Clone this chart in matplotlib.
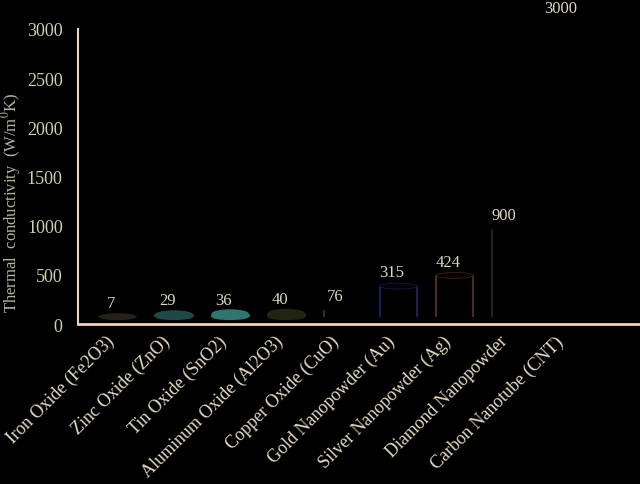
import matplotlib
matplotlib.use("Agg")
import matplotlib.pyplot as plt
from matplotlib.patches import Ellipse

categories = ["Iron Oxide (Fe2O3)", "Zinc Oxide (ZnO)", "Tin Oxide (SnO2)",
              "Aluminum Oxide (Al2O3)", "Copper Oxide (CuO)", "Gold Nanopowder (Au)",
              "Silver Nanopowder (Ag)", "Diamond Nanopowder", "Carbon Nanotube (CNT)"]
values = [7, 29, 36, 40, 76, 315, 424, 900, 3000]
yticks = [0, 500, 1000, 1500, 2000, 2500, 3000]

# styling
fill_colors = ['#262116', '#1e4946', '#2f766e', '#23230f', '#000000',
               '#030208', '#060302', '#000000', '#000000']
left_colors = ['#262116', '#1e4946', '#2f766e', '#2c2c12', '#3a3a16',
               '#2a1f70', '#5e3422', '#2e2a1c', '#000000']
right_colors = ['#262116', '#1e4946', '#2f766e', '#2c2c12', '#000000',
                '#2e2470', '#5a3422', '#000000', '#000000']
top_edge = ['none', 'none', 'none', 'none', 'none', '#1c1648', '#3a2216', 'none', 'none']
txt = '#ded6c0'
plt.rcParams['font.family'] = ['Liberation Serif', 'DejaVu Serif']
plt.rcParams['mathtext.fontset'] = 'stix'

fig = plt.figure(figsize=(6.4, 4.85), dpi=100, facecolor='black')
ax = fig.add_axes([78/640, 160/485, 1 - 78/640, 295/485], facecolor='black')
ax.set_xlim(-0.71, 9.3)
ax.set_ylim(0, 3000)

base = 70       # 3D floor depth (style)
w = 0.66
eh = 60         # ellipse height in data units
for i, v in enumerate(values):
    top = base + v
    ax.fill_between([i - w/2, i + w/2], base, top, color=fill_colors[i] if v < 60 else 'black', lw=0, zorder=2)
    ax.vlines(i - w/2, base, top, color=left_colors[i], lw=1.2, zorder=3)
    ax.vlines(i + w/2, base, top, color=right_colors[i], lw=1.2, zorder=3)
    if v < 60:
        ax.add_patch(Ellipse((i, base), w, eh, facecolor=fill_colors[i], edgecolor='none', zorder=2))
        ax.add_patch(Ellipse((i, top), w, eh * (1.0 + v / 80), facecolor=fill_colors[i],
                             edgecolor='none', zorder=4))
    else:
        ax.add_patch(Ellipse((i, top), w, eh, facecolor=fill_colors[i],
                             edgecolor=top_edge[i], lw=0.6, zorder=4))
    ax.annotate(str(v), (i - 0.12, top), xytext=(0, 10), textcoords='offset points',
                ha='center', va='center', color=txt, fontsize=12, annotation_clip=False)

ax.set_xticks(range(len(categories)))
ax.set_xticklabels(categories, rotation=45, ha='right', fontsize=13, color='#e6dac4')
ax.set_yticks(yticks)
ax.set_yticklabels([str(t) for t in yticks], fontsize=13, color='#d2ceb4')
ax.tick_params(axis='both', length=0)
ax.tick_params(axis='y', pad=11)
ax.tick_params(axis='x', pad=6)

ax.set_ylabel('Thermal  conductivity  (W/m$^{0}$K)', fontsize=12, color='#b8b3a0')
ax.yaxis.set_label_coords(-0.097, 0.415)

for s in ['top', 'right']:
    ax.spines[s].set_visible(False)
ax.spines['left'].set_color('#e8d6c2')
ax.spines['left'].set_linewidth(1.5)
ax.spines['bottom'].set_color('#f0d2bc')
ax.spines['bottom'].set_linewidth(2)

fig.savefig('out.png', dpi=100, facecolor='black')
